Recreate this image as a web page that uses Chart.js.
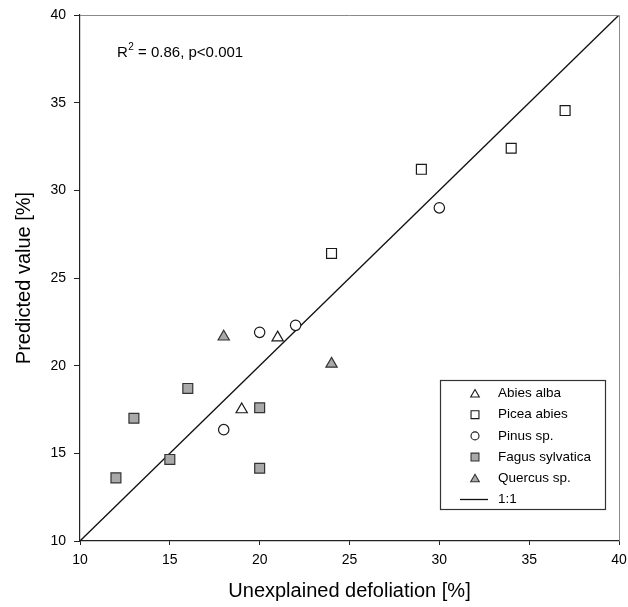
<!DOCTYPE html>
<html>
<head>
<meta charset="utf-8">
<script src="https://cdn.jsdelivr.net/npm/chart.js@4.4.1/dist/chart.umd.min.js"></script>
<style>
  html, body { margin: 0; padding: 0; background: #fff; }
  #wrap { width: 628px; height: 607px; }
</style>
</head>
<body>
<div id="wrap"><canvas id="c" width="628" height="607"></canvas></div>
<script>
// ---- data ----
const abiesX = [19, 21];
const abiesY = [17.5, 21.6];
const piceaX = [24, 29, 34, 37];
const piceaY = [26.4, 31.2, 32.4, 34.55];
const pinusX = [18, 20, 22, 30];
const pinusY = [16.35, 21.9, 22.3, 29.0];
const fagusX = [12, 13, 15, 16, 20, 20];
const fagusY = [13.6, 17.0, 14.65, 18.7, 17.6, 14.15];
const quercusX = [18, 24];
const quercusY = [21.65, 20.1];
const lineX = [10, 40];
const lineY = [10, 40];
const xTicksMin = 10, xTicksMax = 40, tickStep = 5;
const seriesNames = ['Abies alba', 'Picea abies', 'Pinus sp.', 'Fagus sylvatica', 'Quercus sp.', '1:1'];
const annotation = ['R', '2', ' = 0.86, p<0.001'];
const xTitle = 'Unexplained defoliation [%]';
const yTitle = 'Predicted value [%]';

const FONT = "'Liberation Sans', Arial, Helvetica, sans-serif";
const GRAY = '#a9a9a9';
const INK = '#1a1a1a';

function pts(xs, ys) { return xs.map((x, i) => ({ x: x, y: ys[i] })); }

const datasets = [
  { label: seriesNames[0], data: pts(abiesX, abiesY), pointStyle: 'triangle', pointRadius: 6.5,
    backgroundColor: '#fff', borderColor: INK, borderWidth: 1.2, order: 0 },
  { label: seriesNames[1], data: pts(piceaX, piceaY), pointStyle: 'rect', pointRadius: 7,
    backgroundColor: '#fff', borderColor: INK, borderWidth: 1.2, order: 0 },
  { label: seriesNames[2], data: pts(pinusX, pinusY), pointStyle: 'circle', pointRadius: 5.2,
    backgroundColor: '#fff', borderColor: INK, borderWidth: 1.2, order: 0 },
  { label: seriesNames[3], data: pts(fagusX, fagusY), pointStyle: 'rect', pointRadius: 7,
    backgroundColor: GRAY, borderColor: '#333', borderWidth: 1.2, order: 0 },
  { label: seriesNames[4], data: pts(quercusX, quercusY), pointStyle: 'triangle', pointRadius: 6.5,
    backgroundColor: GRAY, borderColor: '#333', borderWidth: 1.2, order: 0 },
  { label: seriesNames[5], type: 'line', data: pts(lineX, lineY), showLine: true, pointRadius: 0,
    borderColor: '#111', borderWidth: 1.3, fill: false, order: 10 }
];

const framePlugin = {
  id: 'frame',
  afterDraw(chart) {
    const { ctx, chartArea: a } = chart;
    ctx.save();
    // top & right frame (lighter)
    ctx.strokeStyle = '#8a8a8a';
    ctx.lineWidth = 1;
    ctx.beginPath();
    ctx.moveTo(a.left, a.top + 0.5);
    ctx.lineTo(a.right + 0.5, a.top + 0.5);
    ctx.lineTo(a.right + 0.5, a.bottom);
    ctx.stroke();

    // annotation
    ctx.fillStyle = '#000';
    ctx.textBaseline = 'alphabetic';
    ctx.textAlign = 'left';
    let x = 117, y = 57;
    ctx.font = '15px ' + FONT;
    ctx.fillText(annotation[0], x, y);
    x += ctx.measureText(annotation[0]).width;
    ctx.font = '10px ' + FONT;
    ctx.fillText(annotation[1], x + 0.5, y - 7);
    x += ctx.measureText(annotation[1]).width + 0.5;
    ctx.font = '15px ' + FONT;
    ctx.fillText(annotation[2], x, y);

    // legend box
    const bx = 440.5, by = 380.5, bw = 165, bh = 129;
    ctx.strokeStyle = '#333';
    ctx.lineWidth = 1.2;
    ctx.strokeRect(bx, by, bw, bh);
    const rowY0 = 393.5, rowStep = 21.2, symX = 475, textX = 498;
    ctx.font = '13.5px ' + FONT;
    ctx.textBaseline = 'middle';
    chart.data.datasets.forEach((ds, i) => {
      const ry = rowY0 + i * rowStep;
      if (ds.type === 'line') {
        ctx.strokeStyle = '#111';
        ctx.lineWidth = 1.3;
        ctx.beginPath();
        ctx.moveTo(460, ry);
        ctx.lineTo(488, ry);
        ctx.stroke();
      } else {
        ctx.fillStyle = ds.backgroundColor;
        ctx.strokeStyle = ds.borderColor;
        ctx.lineWidth = 1.1;
        const r = ds.pointStyle === 'rect' ? 5.6 : (ds.pointStyle === 'circle' ? 4 : 5);
        Chart.helpers.drawPoint(ctx, { pointStyle: ds.pointStyle, radius: r, rotation: 0, borderWidth: 1.1 }, symX, ry + (ds.pointStyle === 'triangle' ? 1 : 0));
      }
      ctx.fillStyle = '#000';
      ctx.fillText(ds.label, textX, ry);
    });
    ctx.restore();
  }
};

new Chart(document.getElementById('c'), {
  type: 'scatter',
  data: { datasets: datasets },
  plugins: [framePlugin],
  options: {
    responsive: false,
    devicePixelRatio: 1,
    animation: false,
    layout: { padding: { top: 15, right: 9, left: 0, bottom: 0 } },
    plugins: { legend: { display: false }, tooltip: { enabled: false } },
    scales: {
      x: {
        type: 'linear', min: xTicksMin, max: xTicksMax,
        ticks: { stepSize: tickStep, color: '#000', font: { family: FONT, size: 14 }, padding: 7, maxRotation: 0 },
        grid: { drawOnChartArea: false, drawTicks: true, tickLength: 4, color: '#222' },
        border: { color: '#222', width: 1.2 },
        title: { display: true, text: xTitle, color: '#000', font: { family: FONT, size: 20 }, padding: { top: 0, bottom: 4 } },
        afterFit(s) { s.height = 66; s.paddingRight = 0; s.paddingLeft = 0; }
      },
      y: {
        type: 'linear', min: xTicksMin, max: xTicksMax,
        ticks: { stepSize: tickStep, color: '#000', font: { family: FONT, size: 14 }, padding: 8 },
        grid: { drawOnChartArea: false, drawTicks: true, tickLength: 6, color: '#222' },
        border: { color: '#222', width: 1.2 },
        title: { display: true, text: yTitle, color: '#000', font: { family: FONT, size: 20 }, padding: { top: 12, bottom: 0 } },
        afterFit(s) { s.width = 80; s.paddingTop = 0; s.paddingBottom = 0; }
      }
    }
  }
});
</script>
</body>
</html>
